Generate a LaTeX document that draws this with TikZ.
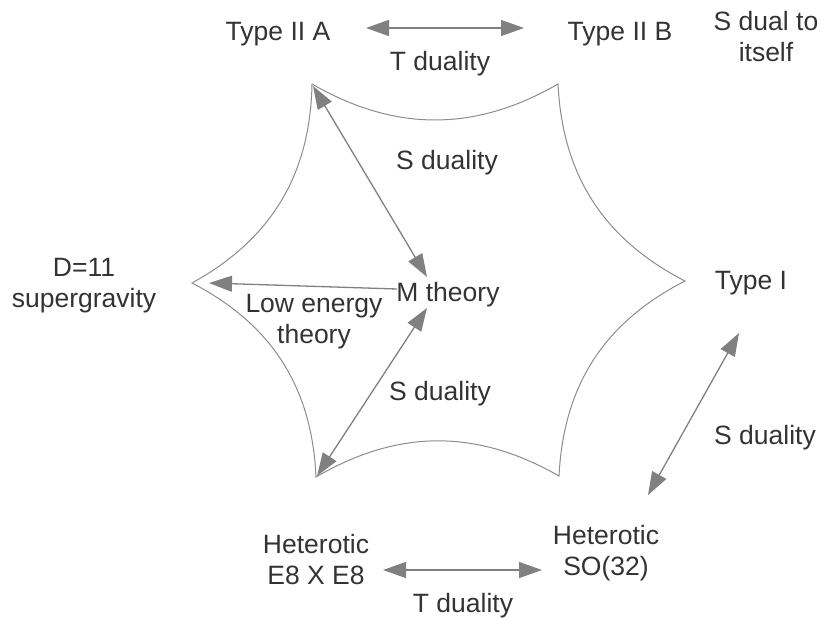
\documentclass[tikz,border=0pt]{standalone}
\usepackage{fontspec}
\setmainfont{Liberation Sans}
\usetikzlibrary{arrows.meta}
\definecolor{txt}{HTML}{333333}
\definecolor{ln}{HTML}{808080}
\definecolor{edge}{HTML}{8C8C8C}
\begin{document}
\begin{tikzpicture}[x=1pt,y=-1pt,
  lbl/.style={font=\fontsize{26.5}{31}\selectfont, text=txt, align=center, inner sep=0pt},
  starline/.style={draw=edge, line width=1pt},
  dual/.style={draw=ln, line width=1.3pt,
    {Triangle[length=23pt,width=16pt]}-{Triangle[length=23pt,width=16pt]}},
  single/.style={draw=ln, line width=1.3pt, -{Triangle[length=23pt,width=16pt]}}]
\useasboundingbox (0,0) rectangle (830,618);
% cusps of the star
\coordinate (TL) at (312,84);
\coordinate (TR) at (558,84);
\coordinate (R) at (685,281);
\coordinate (BR) at (559,476);
\coordinate (BL) at (316,477);
\coordinate (L) at (192,283);
\draw[starline] (TL) to[bend right=30] (TR) to[bend right=30] (R)
  to[bend right=30] (BR) to[bend right=30] (BL) to[bend right=30] (L)
  to[bend right=30] (TL);
% labels
\node[lbl] (t2a) at (278,34) {Type II A};
\node[lbl] (t2b) at (620,34) {Type II B};
\node[lbl] (self) at (766,37) {S dual to\\itself};
\node[lbl] (tdtop) at (440,64) {T duality};
\node[lbl] (sdup) at (447,163) {S duality};
\node[lbl] (d11) at (84,286) {D=11\\supergravity};
\node[lbl] (M) at (448,295) {M theory};
\node[lbl] (low) at (314,322) {Low energy\\theory};
\node[lbl] (t1) at (751,283) {Type I};
\node[lbl] (sdmid) at (440,394) {S duality};
\node[lbl] (sdright) at (765,438) {S duality};
\node[lbl] (e8) at (316,560) {Heterotic\\E8 X E8};
\node[lbl] (so) at (606,553) {Heterotic\\SO(32)};
\node[lbl] (tdbot) at (463,606) {T duality};
% arrow end points
\coordinate (a1s) at (366,28);
\coordinate (a1e) at (524,28);
\coordinate (a2s) at (313,86);
\coordinate (a2e) at (427,277);
\coordinate (a3s) at (397,289);
\coordinate (a3e) at (209,283);
\coordinate (a4s) at (427,308);
\coordinate (a4e) at (317,476);
\coordinate (a5s) at (739,333);
\coordinate (a5e) at (648,495);
\coordinate (a6s) at (383,570);
\coordinate (a6e) at (542,570);
% arrows
\draw[dual] (a1s) -- (a1e);
\draw[dual] (a2s) -- (a2e);
\draw[single] (a3s) -- (a3e);
\draw[dual] (a4s) -- (a4e);
\draw[dual] (a5s) -- (a5e);
\draw[dual] (a6s) -- (a6e);
\end{tikzpicture}
\end{document}
